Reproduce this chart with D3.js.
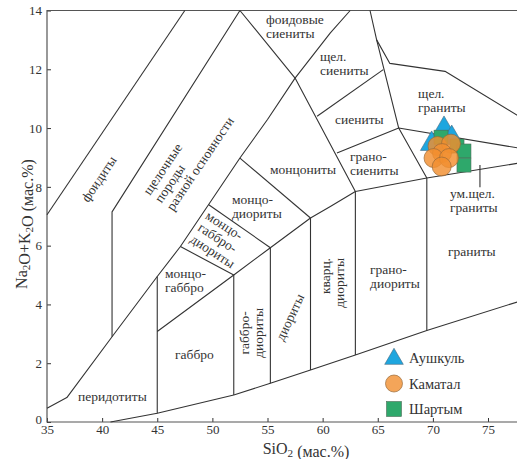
<!DOCTYPE html>
<html>
<head>
<meta charset="utf-8">
<script src="https://cdn.jsdelivr.net/npm/d3@7"></script>
<style>
  body { margin: 0; background: #fff; }
  svg { display: block; }
  text { font-family: "Liberation Serif", "Times New Roman", serif; fill: #333; }
</style>
</head>
<body>
<div id="vis"></div>
<script>
////////////////////////////////////////
//////////////// Data //////////////////
////////////////////////////////////////

// field boundaries, [SiO2, Na2O+K2O] in wt.%
const boundaries = [
  [[35, 7.05], [47.5, 14]],
  [[52.5, 14], [40.9, 7.15], [40.9, 2.9]],
  [[35, 0.47], [36.8, 0.83], [40.9, 2.9], [45, 4.95], [47.1, 5.97], [52.5, 8.98],
   [55, 10.29], [57.5, 11.7], [60.7, 13.24], [62.5, 14]],
  [[52.5, 14], [57.5, 11.7], [62.97, 7.84]],
  [[64.3, 14], [64.9, 13.0], [66.9, 10.0], [69.45, 8.3], [69.45, 3.11]],
  [[64.9, 13.0], [66.1, 12.2], [71.1, 11.93], [77.8, 10.4]],
  [[59.5, 10.4], [65.5, 11.99]],
  [[61.3, 9.15], [66.9, 10.0], [77.8, 9.32]],
  [[45, 3.08], [51.94, 5.0], [55.26, 5.93], [58.9, 6.94], [60.7, 7.33],
   [62.97, 7.84], [69.45, 8.3], [77.8, 8.81]],
  [[40.76, 0], [45, 0.3], [51.94, 0.92], [55.26, 1.32], [58.9, 1.77],
   [62.97, 2.28], [69.45, 3.11], [77.8, 4.1]],
  [[45, 0.3], [45, 4.95]],
  [[51.94, 0.92], [51.94, 5.0]],
  [[55.26, 1.32], [55.26, 5.93]],
  [[58.9, 1.77], [58.9, 6.94]],
  [[62.97, 2.28], [62.97, 7.84]],
  [[47.1, 5.97], [51.94, 5.0]],
  [[49.67, 7.39], [55.26, 5.93]],
  [[52.5, 8.98], [58.9, 6.94]],
];

// pointer to the moderately alkaline granite strip
const leader = [[74.27, 8.74], [74.27, 7.99]];

// field names, anchored in data units
const fieldLabels = [
  { lines: ["фоидовые", "сиениты"], x: 54.86, y: 13.54 },
  { lines: ["щел.", "сиениты"], x: 59.76, y: 12.28 },
  { lines: ["сиениты"], x: 61.12, y: 10.14 },
  { lines: ["щел.", "граниты"], x: 68.65, y: 11.02 },
  { lines: ["грано-", "сиениты"], x: 62.48, y: 8.88 },
  { lines: ["монцониты"], x: 55.23, y: 8.44 },
  { lines: ["монцо-", "диориты"], x: 51.78, y: 7.41 },
  { lines: ["монцо-", "габбро-", "диориты"], x: 49.29, y: 6.94, angle: 33 },
  { lines: ["монцо-", "габбро"], x: 45.7, y: 4.9 },
  { lines: ["габбро"], x: 46.61, y: 2.14 },
  { lines: ["перидотиты"], x: 37.81, y: 0.71 },
  { lines: ["габбро-", "диориты"], x: 53.28, y: 3.03, angle: -90, anchor: "middle" },
  { lines: ["диориты"], x: 57.41, y: 3.5, angle: -65, anchor: "middle" },
  { lines: ["кварц.", "диориты"], x: 60.67, y: 5.58, angle: -90, anchor: "end" },
  { lines: ["грано-", "диориты"], x: 64.3, y: 5.03 },
  { lines: ["граниты"], x: 71.37, y: 5.65 },
  { lines: ["ум.щел.", "граниты"], x: 71.55, y: 7.62 },
  { lines: ["фоидиты"], x: 40.05, y: 8.18, angle: -56, anchor: "middle" },
  { lines: ["щелочные", "породы", "разной основности"], x: 44.34, y: 7.69, angle: -56 },
];

// samples: [SiO2, Na2O+K2O]
const aushkul = [[71.01, 9.97], [71.71, 9.66], [69.89, 9.46]];
const shartym = [[70.74, 9.69], [72.19, 9.39], [72.82, 9.22], [72.82, 8.74]];
const kamatal = [[70.42, 9.39], [71.64, 9.47], [70.83, 9.15], [70.06, 8.98], [71.46, 8.98], [70.8, 8.69]];

const legendNames = ["Аушкуль", "Каматал", "Шартым"];

const xTicks = [35, 40, 45, 50, 55, 60, 65, 70, 75];
const yTicks = [0, 2, 4, 6, 8, 10, 12, 14];

////////////////////////////////////////
/////////////// Options ////////////////
////////////////////////////////////////

const options = {
  width: 517,
  height: 459,
  left: 47,
  x75: 488,
  top: 10.5,
  bottom: 422,
  ink: "#333",
  strokeWidth: 1.1,
  labelSize: 13.5,
  lineHeight: 14,
  tickSize: 13,
  titleSize: 16,
  triangle: "#1ea6df",
  circle: "#f18f2f",
  square: "#2ea86b",
};

////////////////////////////////////////
////////////// SVG Setup ///////////////
////////////////////////////////////////

const svg = d3
  .select("#vis")
  .append("svg")
  .attr("width", options.width)
  .attr("height", options.height);

const x = d3.scaleLinear().domain([35, 75]).range([options.left, options.x75]);
const y = d3.scaleLinear().domain([0, 14]).range([options.bottom, options.top]);

////////////////////////////////////////
//////////////// Axis //////////////////
////////////////////////////////////////

const xAxis = svg
  .append("g")
  .attr("transform", `translate(0,${options.bottom})`)
  .call(d3.axisBottom(x).tickValues(xTicks).tickSizeInner(-4).tickSizeOuter(0).tickPadding(3));

const yAxis = svg
  .append("g")
  .attr("transform", `translate(${options.left},0)`)
  .call(d3.axisLeft(y).tickValues(yTicks).tickSizeInner(-4).tickSizeOuter(0).tickPadding(5));

[xAxis, yAxis].forEach((a) => {
  a.select(".domain").remove();
  a.selectAll(".tick line").attr("stroke", options.ink).attr("stroke-width", 1);
  a.selectAll(".tick text")
    .attr("fill", options.ink)
    .style("font-family", '"Liberation Serif", "Times New Roman", serif')
    .style("font-size", options.tickSize + "px");
});

// the 0 label sits just above the 35 label, as in the source figure
yAxis.selectAll(".tick text").filter((d) => d === 0).attr("dy", "0.1em");

// frame: left, bottom, top (the plot runs off the right edge)
const frame = svg.append("g").attr("stroke", "#555").attr("stroke-width", 1.2).attr("fill", "none");
frame.append("path").attr("d", `M${options.width},${options.top}H${options.left}V${options.bottom}H${options.width}`);

////////////////////////////////////////
///////////// Boundaries ///////////////
////////////////////////////////////////

const line = d3.line().x((d) => x(d[0])).y((d) => y(d[1]));

svg
  .append("g")
  .attr("fill", "none")
  .attr("stroke", options.ink)
  .attr("stroke-width", options.strokeWidth)
  .attr("stroke-linejoin", "round")
  .selectAll("path")
  .data(boundaries.concat([leader]))
  .join("path")
  .attr("d", line);

////////////////////////////////////////
/////////////// Labels /////////////////
////////////////////////////////////////

svg
  .append("g")
  .style("font-size", options.labelSize + "px")
  .selectAll("text")
  .data(fieldLabels)
  .join("text")
  .attr("transform", (d) => `translate(${x(d.x)},${y(d.y)}) rotate(${d.angle || 0})`)
  .attr("text-anchor", (d) => d.anchor || "start")
  .each(function (d) {
    d3.select(this)
      .selectAll("tspan")
      .data(d.lines)
      .join("tspan")
      .attr("x", 0)
      .attr("y", (t, i) => i * options.lineHeight)
      .text((t) => t);
  });

////////////////////////////////////////
/////////////// Samples ////////////////
////////////////////////////////////////

const triangle = d3.symbol().type(d3.symbolTriangle).size(220);

svg
  .append("g")
  .selectAll("path")
  .data(aushkul)
  .join("path")
  .attr("d", triangle)
  .attr("transform", (d) => `translate(${x(d[0])},${y(d[1])})`)
  .attr("fill", options.triangle)
  .attr("stroke", "#4a6a80")
  .attr("stroke-width", 0.6);

svg
  .append("g")
  .selectAll("rect")
  .data(shartym)
  .join("rect")
  .attr("x", (d) => x(d[0]) - 7)
  .attr("y", (d) => y(d[1]) - 7)
  .attr("width", 14)
  .attr("height", 14)
  .attr("fill", options.square)
  .attr("stroke", "#4d6b58")
  .attr("stroke-width", 0.6);

svg
  .append("g")
  .selectAll("circle")
  .data(kamatal)
  .join("circle")
  .attr("cx", (d) => x(d[0]))
  .attr("cy", (d) => y(d[1]))
  .attr("r", 9.5)
  .attr("fill", options.circle)
  .attr("fill-opacity", 0.82)
  .attr("stroke", "#9a6a3a")
  .attr("stroke-width", 0.7);

////////////////////////////////////////
/////////////// Legend /////////////////
////////////////////////////////////////

const legend = svg.append("g").attr("transform", "translate(394,358)");
const rows = legend
  .selectAll("g")
  .data(legendNames)
  .join("g")
  .attr("transform", (d, i) => `translate(0,${i * 25.5})`);

rows.filter((d, i) => i === 0)
  .append("path")
  .attr("d", d3.symbol().type(d3.symbolTriangle).size(150))
  .attr("transform", "translate(0,1)")
  .attr("fill", options.triangle)
  .attr("stroke", "#4a6a80")
  .attr("stroke-width", 0.6);

rows.filter((d, i) => i === 1)
  .append("circle")
  .attr("r", 8.5)
  .attr("fill", options.circle)
  .attr("fill-opacity", 0.8)
  .attr("stroke", "#9a6a3a")
  .attr("stroke-width", 0.7);

rows.filter((d, i) => i === 2)
  .append("rect")
  .attr("x", -7.5)
  .attr("y", -7.5)
  .attr("width", 15)
  .attr("height", 15)
  .attr("fill", options.square)
  .attr("stroke", "#4d6b58")
  .attr("stroke-width", 0.6);

rows.append("text")
  .attr("x", 15)
  .attr("dy", "0.35em")
  .style("font-size", "14.5px")
  .text((d) => d);

////////////////////////////////////////
/////////////// Titles /////////////////
////////////////////////////////////////

function chemTitle(sel, parts) {
  parts.forEach((p) => {
    if (p.sub) {
      sel.append("tspan").attr("dy", "0.25em").style("font-size", "70%").text(p.sub);
      sel.append("tspan").attr("dy", "-0.25em").text("");
    } else {
      sel.append("tspan").text(p.t);
    }
  });
}

const xTitle = svg
  .append("text")
  .attr("x", 306)
  .attr("y", 454)
  .attr("text-anchor", "middle")
  .style("font-size", options.titleSize + "px");
chemTitle(xTitle, [{ t: "SiO" }, { sub: "2" }, { t: " (мас.%)" }]);

const yTitle = svg
  .append("text")
  .attr("transform", "translate(27,224) rotate(-90)")
  .attr("text-anchor", "middle")
  .style("font-size", options.titleSize + "px");
chemTitle(yTitle, [{ t: "Na" }, { sub: "2" }, { t: "O+K" }, { sub: "2" }, { t: "O (мас.%)" }]);
</script>
</body>
</html>
